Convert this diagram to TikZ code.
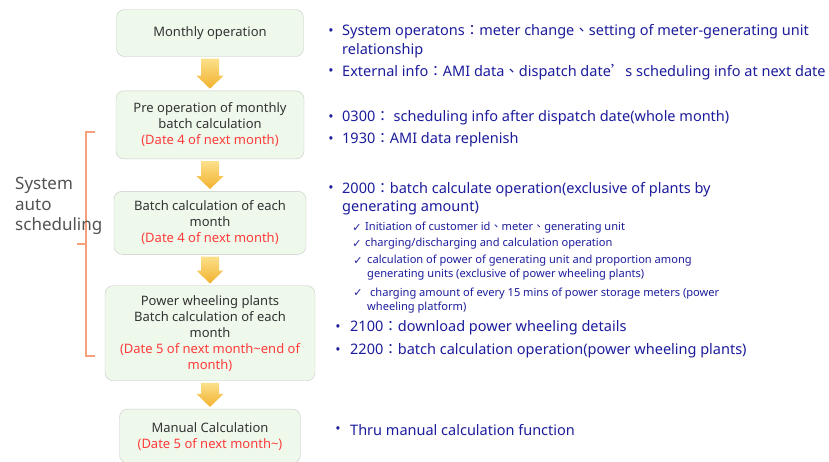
\documentclass[tikz,border=0pt]{standalone}
\usepackage{fontspec}
\setmainfont{Noto Sans}
\newfontfamily\cjk{Noto Sans CJK TC}
\newfontfamily\symb{DejaVu Sans}
\usepackage{xcolor}
\usetikzlibrary{positioning, calc}
\definecolor{boxfill}{HTML}{EEF9EC}
\definecolor{boxline}{HTML}{C4CAC4}
\definecolor{boxtext}{HTML}{333333}
\definecolor{datered}{HTML}{FF3B3B}
\definecolor{notenavy}{HTML}{1C1C9C}
\definecolor{bracketorange}{HTML}{F4A07A}
\definecolor{arrowtop}{HTML}{FBE08A}
\definecolor{arrowbot}{HTML}{F2B12E}
\newcommand{\fw}[1]{{\cjk #1}}

\begin{document}
\begin{tikzpicture}[x=1pt, y=-1pt]
    % Styles
    \tikzstyle{stage} = [rectangle, draw=boxline, fill=boxfill, rounded corners=8pt, align=center, text=boxtext, font=\fontsize{13}{16}\selectfont, inner sep=2pt]
    \tikzstyle{flow} = [top color=arrowtop, bottom color=arrowbot, draw=none]
    \tikzstyle{note} = [anchor=west, align=left, text=notenavy, inner sep=0pt, font=\fontsize{14.5}{18.5}\selectfont]
    \tikzstyle{subnote} = [anchor=west, align=left, text=notenavy, inner sep=0pt, font=\fontsize{11.1}{14}\selectfont]
    \tikzstyle{dot} = [text=notenavy, inner sep=0pt, font=\fontsize{14}{14}\selectfont]
    \tikzstyle{tick} = [text=notenavy, inner sep=0pt, font=\symb\fontsize{11}{11}\selectfont]

    \useasboundingbox (0,0) rectangle (829,461);

    % --- FLOW OF STAGES ---
    \node [stage, minimum width=187pt, minimum height=47pt] (monthly) at (210,33) {Monthly operation};
    \node [stage, minimum width=188pt, minimum height=68pt, below=34pt of monthly] (preop) {Pre operation of monthly\\batch calculation\\\textcolor{datered}{(Date 4 of next month)}};
    \node [stage, minimum width=192pt, minimum height=63pt, below=32pt of preop] (batch) {Batch calculation of each\\month\\\textcolor{datered}{(Date 4 of next month)}};
    \node [stage, minimum width=210pt, minimum height=95pt, below=31pt of batch] (wheeling) {Power wheeling plants\\Batch calculation of each\\month\\\textcolor{datered}{(Date 5 of next month\textasciitilde end of}\\\textcolor{datered}{month)}};
    \node [stage, minimum width=181pt, minimum height=54pt, below=28pt of wheeling] (manual) {Manual Calculation\\\textcolor{datered}{(Date 5 of next month\textasciitilde)}};

    % --- FAT ARROWS ---
    \foreach \from/\to in {monthly/preop, preop/batch, batch/wheeling, wheeling/manual}
        \shade [flow] ($(\from.south)+(-9,2)$) -- ($(\to.north)+(-9,-15)$) -- ($(\to.north)+(-13.5,-15)$)
            -- ($(\to.north)+(0,-2)$) -- ($(\to.north)+(13.5,-15)$) -- ($(\to.north)+(9,-15)$)
            -- ($(\from.south)+(9,2)$) -- cycle;

    % --- BRACKET ---
    \coordinate (btop) at (95,132);
    \coordinate (bbot) at (95,356);
    \coordinate (bmid) at (86,244);
    \draw [bracketorange, line width=1.2pt] (btop) -| (bmid) |- (bbot);
    \draw [bracketorange, line width=1.2pt] (bmid) -- ++(-9,0);
    \node [anchor=west, align=left, text=black!68, inner sep=0pt, font=\fontsize{17}{20.5}\selectfont] (auto) at (15,206) {System\\auto\\scheduling};

    % --- NOTES ---
    \node [dot] (d1) at (331,32) {•};
    \node [note] (n1) at (342,41) {System operatons\fw{：}meter change\fw{、}setting of meter-generating unit\\relationship};
    \node [dot] (d2) at (331,72) {•};
    \node [note] (n2) at (342,72) {External info\fw{：}AMI data\fw{、}dispatch date\fw{’}s scheduling info at next date};
    \node [dot] (d3) at (331,118) {•};
    \node [note] (n3) at (342,118) {0300\fw{：} scheduling info after dispatch date(whole month)};
    \node [dot] (d4) at (331,140) {•};
    \node [note] (n4) at (342,140) {1930\fw{：}AMI data replenish};
    \node [dot] (d5) at (331,189) {•};
    \node [note] (n5) at (342,198.5) {2000\fw{：}batch calculate operation(exclusive of plants by\\generating amount)};

    \node [tick] (t1) at (357,228) {✓};
    \node [subnote] (c1) at (365,228) {Initiation of customer id\fw{、}meter\fw{、}generating unit};
    \node [tick] (t2) at (357,244) {✓};
    \node [subnote] (c2) at (365,244) {charging/discharging and calculation operation};
    \node [tick] (t3) at (358,261) {✓};
    \node [subnote] (c3) at (367,268) {calculation of power of generating unit and proportion among\\generating units (exclusive of power wheeling plants)};
    \node [tick] (t4) at (358,293) {✓};
    \node [subnote] (c4) at (367,301) {\ charging amount of every 15 mins of power storage meters (power\\wheeling platform)};

    \node [dot] (d6) at (338,328) {•};
    \node [note] (n6) at (350,328) {2100\fw{：}download power wheeling details};
    \node [dot] (d7) at (338,351) {•};
    \node [note] (n7) at (350,351) {2200\fw{：}batch calculation operation(power wheeling plants)};
    \node [dot] (d8) at (338,430) {•};
    \node [note] (n8) at (350,430) {Thru manual calculation function};

\end{tikzpicture}
\end{document}
